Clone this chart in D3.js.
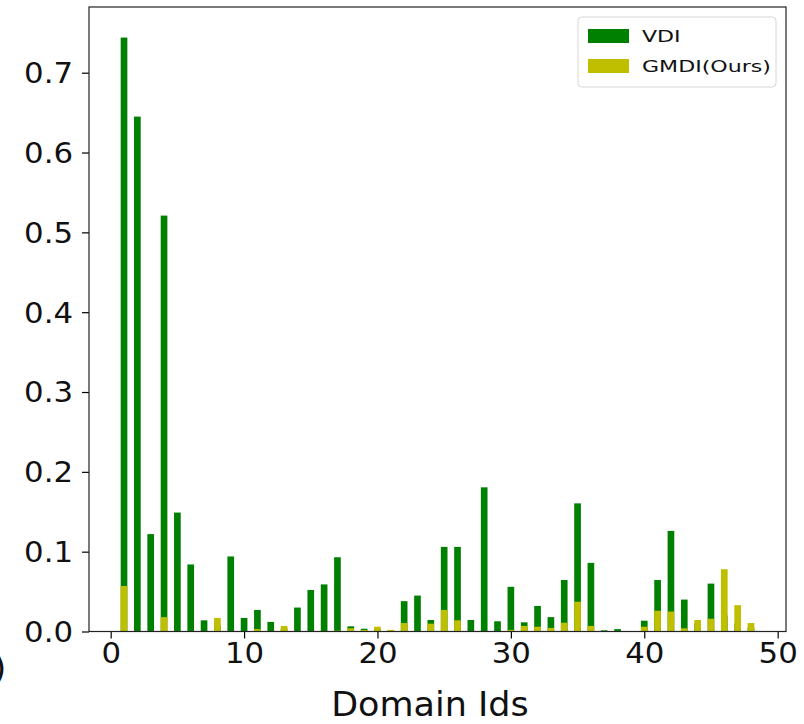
<!DOCTYPE html>
<html>
<head>
<meta charset="utf-8">
<script src="https://cdn.jsdelivr.net/npm/d3@7"></script>
<style>
  html, body { margin: 0; padding: 0; background: #fff; }
  svg { display: block; font-family: "DejaVu Sans", sans-serif; }
</style>
</head>
<body>
<div id="chart"></div>
<script>
// ---- data ----
const domainIds = d3.range(1, 49);
const vdiValues = [
  0.744, 0.645, 0.122, 0.521, 0.149, 0.084, 0.014, 0.008, 0.094, 0.017,
  0.027, 0.012, 0.004, 0.030, 0.052, 0.059, 0.093, 0.0065, 0.0035, 0.003,
  0.001, 0.038, 0.045, 0.0144, 0.106, 0.106, 0.0144, 0.1806, 0.0128, 0.056,
  0.0115, 0.032, 0.018, 0.0645, 0.1605, 0.086, 0.0015, 0.003, 0.0, 0.0135,
  0.0645, 0.126, 0.040, 0.010, 0.060, 0.020, 0.010, 0.005
];
const gmdiValues = [
  0.057, 0.0, 0.0, 0.018, 0.0, 0.0, 0.0, 0.017, 0.0, 0.0,
  0.003, 0.0, 0.007, 0.0, 0.0, 0.0, 0.001, 0.004, 0.002, 0.006,
  0.002, 0.0106, 0.0, 0.0098, 0.027, 0.014, 0.0, 0.0, 0.0, 0.002,
  0.007, 0.006, 0.0045, 0.011, 0.0373, 0.007, 0.0, 0.0, 0.0, 0.006,
  0.026, 0.025, 0.004, 0.0144, 0.016, 0.078, 0.033, 0.0106
];
const xTicks = [0, 10, 20, 30, 40, 50];
const yTicks = [0.0, 0.1, 0.2, 0.3, 0.4, 0.5, 0.6, 0.7];
const seriesNames = ["VDI", "GMDI(Ours)"];
const seriesColors = ["#008000", "#bfbf00"];

// ---- layout ----
const W = 804, H = 724;
const mLeft = 89, mRight = 786, mTop = 7, mBottom = 631.5;
const barWidth = 0.5;

const svg = d3.select("#chart").append("svg").attr("width", W).attr("height", H);

const x = d3.scaleLinear().domain([-1.625, 50.625]).range([mLeft, mRight]);
const y = d3.scaleLinear().domain([0, 0.7823]).range([mBottom, mTop]);

// widen text horizontally (reference glyphs are slightly stretched)
function stretch(sel, f) {
  sel.each(function () {
    const w = this.getComputedTextLength();
    d3.select(this).attr("textLength", w * f).attr("lengthAdjust", "spacingAndGlyphs");
  });
}

// bars: VDI first, GMDI overlaid
const series = [vdiValues, gmdiValues];
series.forEach((vals, si) => {
  svg.append("g").selectAll("rect")
    .data(domainIds.map((id, i) => ({ id, v: vals[i] })))
    .join("rect")
    .attr("x", d => x(d.id - barWidth / 2))
    .attr("width", d => x(barWidth) - x(0))
    .attr("y", d => y(d.v))
    .attr("height", d => y(0) - y(d.v))
    .attr("fill", seriesColors[si]);
});

// axes
const xAxis = d3.axisBottom(x).tickValues(xTicks).tickFormat(d3.format("d")).tickSize(7).tickPadding(5);
const yAxis = d3.axisLeft(y).tickValues(yTicks).tickFormat(d3.format(".1f")).tickSize(7).tickPadding(9);

const gx = svg.append("g").attr("transform", `translate(0,${mBottom})`).call(xAxis);
const gy = svg.append("g").attr("transform", `translate(${mLeft},0)`).call(yAxis);
[gx, gy].forEach(g => {
  g.select(".domain").remove();
  g.selectAll(".tick line").attr("stroke", "#000").attr("stroke-width", 1.2);
  g.selectAll(".tick text").attr("fill", "#111").style("font-size", "27.5px")
   .style("font-family", "'DejaVu Sans', sans-serif");
  stretch(g.selectAll(".tick text"), 1.12);
});
gy.selectAll(".tick text").attr("dy", "0.36em");

// frame
svg.append("rect")
  .attr("x", mLeft).attr("y", mTop)
  .attr("width", mRight - mLeft).attr("height", mBottom - mTop)
  .attr("fill", "none").attr("stroke", "#222").attr("stroke-width", 1.2);

// x label
const xl = svg.append("text")
  .attr("x", 430).attr("y", 716)
  .attr("text-anchor", "middle")
  .style("font-size", "33px").attr("fill", "#111")
  .text("Domain Ids");
stretch(xl, 1.06);

// cut-off glyph at the left edge (from the reference)
svg.append("text")
  .attr("x", -7).attr("y", 680)
  .style("font-size", "34px").attr("fill", "#111")
  .text(")");

// legend
const lg = svg.append("g");
lg.append("rect")
  .attr("x", 578).attr("y", 17).attr("width", 198).attr("height", 70)
  .attr("rx", 4).attr("fill", "#fff").attr("stroke", "#d6d6d6").attr("stroke-width", 1);
seriesNames.forEach((name, i) => {
  const yy = 29 + i * 30;
  lg.append("rect").attr("x", 588).attr("y", yy).attr("width", 41).attr("height", 14)
    .attr("fill", seriesColors[i]);
  const t = lg.append("text").attr("x", 642).attr("y", yy + 13)
    .style("font-size", "16px").attr("fill", "#111").text(name);
  stretch(t, 1.38);
});
</script>
</body>
</html>
